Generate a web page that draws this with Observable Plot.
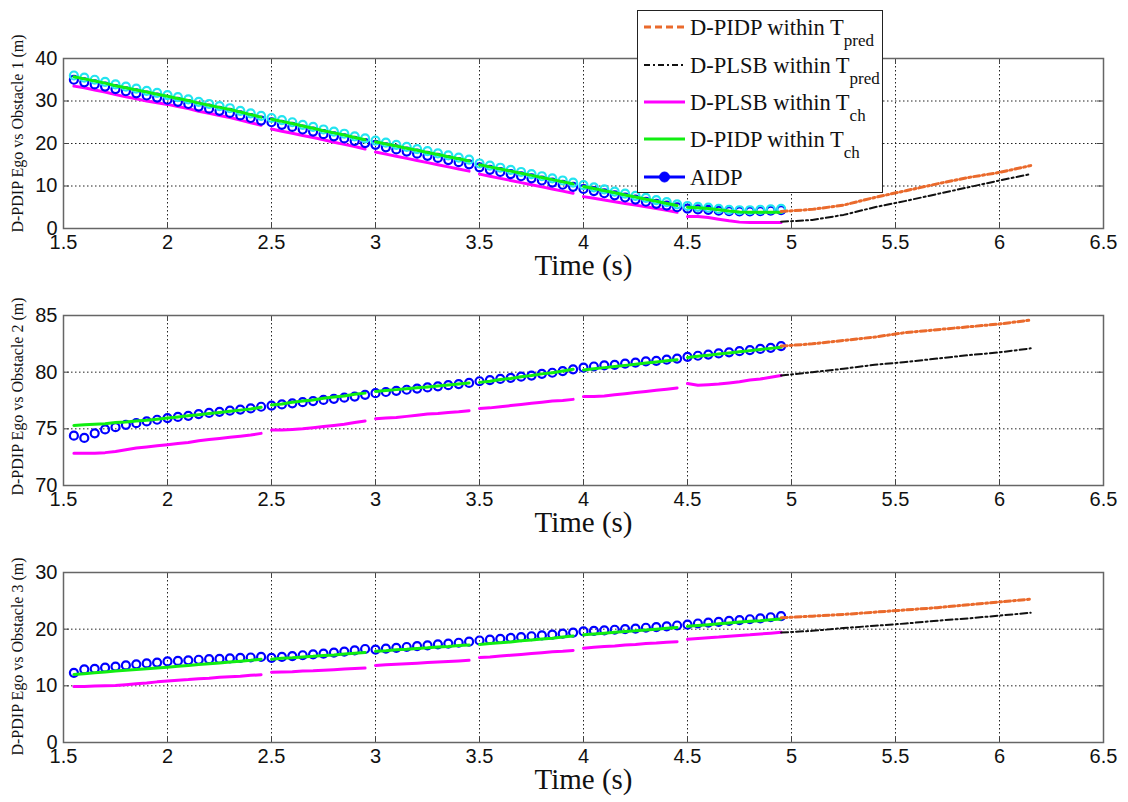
<!DOCTYPE html>
<html><head><meta charset="utf-8">
<script src="https://cdn.jsdelivr.net/npm/d3@7"></script>
<script src="https://cdn.jsdelivr.net/npm/@observablehq/plot@0.6"></script>
<style>
body{margin:0;background:#fff;}
#wrap{position:relative;width:1128px;height:802px;overflow:hidden;background:#fff;}
.panel{position:absolute;left:0;}
#legend{position:absolute;left:637px;top:10px;z-index:5;}
</style></head>
<body><div id="wrap"></div>
<script>
// ---------- data ----------
const xTicks = [1.5, 2, 2.5, 3, 3.5, 4, 4.5, 5, 5.5, 6, 6.5];
const tCh = [1.55,1.6,1.65,1.7,1.75,1.8,1.85,1.9,1.95,2.0,2.05,2.1,2.15,2.2,2.25,2.3,2.35,2.4,2.45,
  2.5,2.55,2.6,2.65,2.7,2.75,2.8,2.85,2.9,2.95,
  3.0,3.05,3.1,3.15,3.2,3.25,3.3,3.35,3.4,3.45,
  3.5,3.55,3.6,3.65,3.7,3.75,3.8,3.85,3.9,3.95,
  4.0,4.05,4.1,4.15,4.2,4.25,4.3,4.35,4.4,4.45,
  4.5,4.55,4.6,4.65,4.7,4.75,4.8,4.85,4.9,4.95];
const segStarts = [1.55, 2.5, 3.0, 3.5, 4.0, 4.5];
const tPred = [4.95,5.1,5.25,5.4,5.55,5.7,5.85,6.0,6.15];

// Obstacle 1
const ob1Plsb = [33.5,33.1,32.6,32.1,31.5,31.0,30.5,30.0,29.6,29.2,28.7,28.2,27.6,27.1,26.6,26.1,25.5,24.9,24.3,
  23.4,22.9,22.4,21.9,21.4,20.9,20.3,19.8,19.3,18.7,
  18.0,17.5,17.0,16.5,16.0,15.5,15.0,14.5,14.0,13.5,
  12.8,12.3,11.8,11.3,10.8,10.3,9.8,9.3,8.8,8.3,
  7.5,7.1,6.7,6.3,5.9,5.5,5.1,4.7,4.3,3.8,
  2.8,2.8,2.6,2.2,1.8,1.5,1.4,1.4,1.4,1.4];
const ob1Pidp = [35.7,35.2,34.7,34.2,33.6,33.1,32.6,32.1,31.6,31.1,30.6,30.1,29.5,29.0,28.5,28.0,27.4,26.8,26.2,
  25.7,25.2,24.7,24.1,23.6,23.0,22.5,22.0,21.4,20.9,
  20.4,19.9,19.4,18.9,18.4,17.9,17.4,16.9,16.4,15.9,
  15.0,14.5,14.0,13.5,13.0,12.5,12.0,11.5,11.0,10.5,
  9.9,9.4,8.9,8.4,7.9,7.4,6.9,6.4,5.9,5.4,
  5.0,4.9,4.7,4.4,4.1,3.9,3.8,3.8,3.8,3.8];
const ob1Aidp = [35.0,34.4,33.9,33.4,32.8,32.3,31.8,31.3,30.8,30.3,29.8,29.3,28.7,28.2,27.7,27.2,26.6,26.0,25.4,
  25.0,24.4,23.9,23.3,22.8,22.2,21.7,21.2,20.6,20.1,
  19.7,19.1,18.6,18.1,17.6,17.1,16.6,16.1,15.6,15.1,
  14.4,13.8,13.3,12.8,12.3,11.8,11.3,10.8,10.3,9.8,
  9.3,8.8,8.3,7.8,7.3,6.8,6.3,5.8,5.4,5.0,
  4.7,4.5,4.4,4.2,4.1,4.0,4.0,4.1,4.2,4.3];
const ob1AidpCyan = [36.0,35.5,35.0,34.5,33.9,33.4,32.9,32.4,31.9,31.4,30.9,30.4,29.8,29.3,28.8,28.3,27.7,27.1,26.5,
  26.0,25.5,25.0,24.4,23.9,23.3,22.8,22.3,21.7,21.2,
  20.7,20.2,19.7,19.2,18.7,18.2,17.7,17.2,16.7,16.2,
  15.3,14.8,14.3,13.8,13.3,12.8,12.3,11.8,11.3,10.8,
  10.2,9.7,9.2,8.7,8.2,7.7,7.2,6.7,6.2,5.7,
  5.3,5.1,4.9,4.6,4.4,4.3,4.3,4.4,4.5,4.6];
const ob1PidpPred = [4.0,4.5,5.5,7.3,8.9,10.5,12.0,13.2,14.8];
const ob1PlsbPred = [1.6,2.0,3.2,5.0,6.5,8.1,9.7,11.3,12.8];

// Obstacle 2
const ob2Plsb = [72.85,72.85,72.85,72.9,73.0,73.15,73.3,73.4,73.5,73.6,73.7,73.8,73.95,74.05,74.15,74.25,74.35,74.45,74.6,
  74.9,74.9,74.95,75.0,75.1,75.2,75.3,75.4,75.55,75.7,
  75.9,75.95,76.0,76.1,76.2,76.3,76.35,76.45,76.5,76.6,
  76.8,76.85,76.95,77.05,77.15,77.25,77.35,77.45,77.5,77.6,
  77.85,77.85,77.9,78.0,78.1,78.2,78.3,78.4,78.5,78.6,
  79.0,78.85,78.9,78.95,79.05,79.15,79.3,79.4,79.55,79.7];
const ob2Pidp = [75.3,75.35,75.4,75.45,75.55,75.6,75.7,75.75,75.85,75.95,76.05,76.15,76.25,76.35,76.45,76.55,76.65,76.75,76.9,
  77.1,77.2,77.35,77.45,77.55,77.7,77.8,77.9,78.05,78.15,
  78.3,78.38,78.46,78.54,78.62,78.7,78.78,78.86,78.95,79.05,
  79.1,79.2,79.35,79.45,79.6,79.7,79.85,79.95,80.1,80.25,
  80.2,80.3,80.4,80.5,80.6,80.7,80.8,80.9,81.0,81.1,
  81.3,81.4,81.5,81.6,81.7,81.8,81.9,82.0,82.1,82.2];
const ob2Aidp = [74.4,74.2,74.6,74.95,75.15,75.35,75.5,75.65,75.8,75.95,76.05,76.15,76.3,76.4,76.5,76.6,76.7,76.8,76.95,
  77.05,77.15,77.25,77.35,77.45,77.55,77.65,77.75,77.85,78.0,
  78.15,78.25,78.35,78.45,78.55,78.65,78.75,78.85,78.95,79.05,
  79.2,79.3,79.4,79.5,79.6,79.7,79.85,79.95,80.1,80.25,
  80.4,80.5,80.6,80.65,80.75,80.85,80.95,81.0,81.1,81.2,
  81.35,81.45,81.55,81.65,81.75,81.85,81.95,82.05,82.15,82.3];
const ob2PidpPred = [82.3,82.5,82.8,83.1,83.5,83.75,84.0,84.25,84.6];
const ob2PlsbPred = [79.7,80.0,80.3,80.65,80.9,81.2,81.5,81.75,82.1];

// Obstacle 3
const ob3Plsb = [9.9,9.9,9.95,10.0,10.05,10.2,10.35,10.5,10.7,10.85,11.0,11.1,11.25,11.35,11.5,11.6,11.7,11.85,11.95,
  12.4,12.45,12.5,12.6,12.65,12.75,12.85,12.95,13.05,13.15,
  13.6,13.7,13.8,13.9,14.0,14.1,14.2,14.3,14.4,14.5,
  15.0,15.1,15.25,15.4,15.55,15.7,15.85,16.0,16.1,16.25,
  16.65,16.8,16.95,17.05,17.2,17.3,17.45,17.55,17.7,17.8,
  18.2,18.35,18.5,18.6,18.75,18.9,19.0,19.15,19.3,19.45];
const ob3Pidp = [12.0,12.15,12.3,12.45,12.6,12.75,12.9,13.0,13.15,13.3,13.45,13.6,13.75,13.9,14.05,14.2,14.35,14.5,14.7,
  14.7,14.85,14.95,15.1,15.2,15.35,15.45,15.6,15.75,15.9,
  16.1,16.2,16.35,16.45,16.6,16.7,16.85,16.95,17.1,17.2,
  17.3,17.45,17.6,17.75,17.95,18.1,18.25,18.4,18.6,18.8,
  19.0,19.15,19.3,19.45,19.6,19.7,19.85,20.0,20.15,20.3,
  20.5,20.65,20.8,20.95,21.1,21.25,21.4,21.5,21.65,21.8];
const ob3Aidp = [12.3,12.9,13.0,13.2,13.4,13.6,13.8,13.95,14.1,14.3,14.4,14.5,14.6,14.7,14.75,14.85,14.95,15.0,15.1,
  14.95,15.1,15.25,15.4,15.55,15.7,15.85,16.05,16.25,16.5,
  16.4,16.55,16.7,16.85,17.0,17.15,17.3,17.45,17.6,17.8,
  18.0,18.15,18.3,18.45,18.6,18.75,18.9,19.05,19.2,19.4,
  19.6,19.7,19.8,19.9,20.0,20.1,20.25,20.35,20.5,20.65,
  20.8,21.0,21.15,21.3,21.45,21.6,21.75,21.9,22.1,22.3];
const ob3PidpPred = [22.0,22.3,22.6,23.0,23.4,23.8,24.3,24.8,25.3];
const ob3PlsbPred = [19.4,19.7,20.2,20.6,21.0,21.5,21.9,22.4,22.9];

const legendLabels = ["D-PIDP within T", "D-PLSB within T", "D-PLSB within T", "D-PIDP within T", "AIDP"];
const legendSubs = ["pred", "pred", "ch", "ch", ""];

// ---------- styles ----------
const C = {pidpPred:"#EA6A2C", plsbPred:"#111111", plsb:"#FF00FF", pidp:"#11EE11", aidp:"#0000FF", cyan:"#22E4F0"};
const SERIF = '"Liberation Serif","Times New Roman",serif';

const panels = [
  {top:0,   yDomain:[0,40],  yTicks:[0,10,20,30,40], title:"D-PDIP Ego vs Obstacle 1 (m)", titleDy:-10,
   plsb:ob1Plsb, pidp:ob1Pidp, aidp:ob1Aidp, cyan:ob1AidpCyan, pidpPred:ob1PidpPred, plsbPred:ob1PlsbPred},
  {top:257, yDomain:[70,85], yTicks:[70,75,80,85],   title:"D-PDIP Ego vs Obstacle 2 (m)", titleDy:-4,
   plsb:ob2Plsb, pidp:ob2Pidp, aidp:ob2Aidp, cyan:null, pidpPred:ob2PidpPred, plsbPred:ob2PlsbPred},
  {top:514, yDomain:[0,30],  yTicks:[0,10,20,30],    title:"D-PDIP Ego vs Obstacle 3 (m)", titleDy:-1,
   plsb:ob3Plsb, pidp:ob3Pidp, aidp:ob3Aidp, cyan:null, pidpPred:ob3PidpPred, plsbPred:ob3PlsbPred}
];

const W = 1128, H = 288, mT = 58, mB = 60, mL = 63, mR = 25;
const PH = H - mT - mB, PW = W - mL - mR;
const seg = t => segStarts.filter(s => s <= t + 1e-9).length;
const toRows = arr => tCh.map((t, i) => ({t, v: arr[i], seg: seg(t)}));
const toPred = arr => tPred.map((t, i) => ({t, v: arr[i]}));

const wrap = document.getElementById("wrap");
for (const p of panels) {
  const marks = [
    Plot.ruleX(xTicks.slice(1, -1), {x: d => d, stroke: "#222", strokeWidth: 1, strokeDasharray: "1.5,2.5"}),
    Plot.ruleY(p.yTicks.slice(1, -1), {y: d => d, stroke: "#222", strokeWidth: 1, strokeDasharray: "1.5,2.5"}),
    Plot.line(toRows(p.plsb), {x: "t", y: "v", z: "seg", stroke: C.plsb, strokeWidth: 3}),
    Plot.dot(toRows(p.aidp), {x: "t", y: "v", r: 4, stroke: C.aidp, strokeWidth: 2.2, fill: "none"}),
  ];
  if (p.cyan) marks.push(Plot.dot(toRows(p.cyan), {x: "t", y: "v", r: 4, stroke: C.cyan, strokeWidth: 2.2, fill: "none"}));
  marks.push(
    Plot.line(toRows(p.pidp), {x: "t", y: "v", z: "seg", stroke: C.pidp, strokeWidth: 3}),
    Plot.line(toPred(p.pidpPred), {x: "t", y: "v", stroke: C.pidpPred, strokeWidth: 3, strokeDasharray: "6,3,2,3"}),
    Plot.line(toPred(p.plsbPred), {x: "t", y: "v", stroke: C.plsbPred, strokeWidth: 2, strokeDasharray: "7,3,2,3"}),
    Plot.tickX(xTicks, {x: d => d, insetTop: PH - 6, stroke: "#444"}),
    Plot.tickX(xTicks, {x: d => d, insetBottom: PH - 6, stroke: "#444"}),
    Plot.tickY(p.yTicks, {y: d => d, insetRight: PW - 6, stroke: "#444"}),
    Plot.tickY(p.yTicks, {y: d => d, insetLeft: PW - 6, stroke: "#444"}),
    Plot.frame({stroke: "#666", strokeWidth: 1.5}),
    Plot.text(["Time (s)"], {text: d => d, frameAnchor: "bottom", dy: 46, fontSize: 29, fontFamily: SERIF, fill: "#111"}),
    Plot.text([p.title], {text: d => d, frameAnchor: "left", textAnchor: "middle", dx: -46, dy: p.titleDy, rotate: -90, fontSize: 16,
      fontFamily: SERIF, fill: "#111"})
  );
  const svg = Plot.plot({
    width: W, height: H, marginTop: mT, marginBottom: mB, marginLeft: mL, marginRight: mR,
    x: {domain: [1.5, 6.5], ticks: xTicks, tickFormat: d => `${d}`, tickSize: 0, tickPadding: 6, label: null},
    y: {domain: p.yDomain, ticks: p.yTicks, tickFormat: d => `${d}`, tickSize: 0, tickPadding: 6, label: null},
    style: {fontFamily: '"Liberation Sans", Arial, sans-serif', fontSize: "20px", color: "#111", background: "transparent", overflow: "visible"},
    marks
  });
  svg.classList.add("panel");
  svg.style.top = p.top + "px";
  wrap.appendChild(svg);
}

// ---------- legend (SVG, same fonts as the plots) ----------
const NS = "http://www.w3.org/2000/svg";
const lg = document.createElementNS(NS, "svg");
lg.setAttribute("id", "legend");
lg.setAttribute("width", 246);
lg.setAttribute("height", 183);
const rowY = [17, 55, 92, 129, 167];
const swatch = [
  `<line x1="7" x2="48" stroke="${C.pidpPred}" stroke-width="3" stroke-dasharray="7,4"/>`,
  `<line x1="7" x2="48" stroke="${C.plsbPred}" stroke-width="2" stroke-dasharray="6,3,2,3"/>`,
  `<line x1="7" x2="48" stroke="${C.plsb}" stroke-width="3"/>`,
  `<line x1="7" x2="48" stroke="${C.pidp}" stroke-width="3"/>`,
  `<line x1="7" x2="48" stroke="${C.aidp}" stroke-width="3"/><circle cx="27.5" cy="0" r="5" fill="${C.aidp}" stroke="${C.aidp}"/>`
];
let html = `<rect x="0.5" y="0.5" width="245" height="182" fill="#fff" stroke="#222" stroke-width="1"/>`;
legendLabels.forEach((lab, i) => {
  html += `<g transform="translate(0,${rowY[i]})">${swatch[i]}` +
    `<text x="53" y="0" dy="0.35em" font-family='${SERIF}' font-size="22.5" fill="#111">${lab}` +
    (legendSubs[i] ? `<tspan font-size="17" dy="11">${legendSubs[i]}</tspan>` : "") +
    `</text></g>`;
});
lg.innerHTML = html;
wrap.appendChild(lg);
</script></body></html>
